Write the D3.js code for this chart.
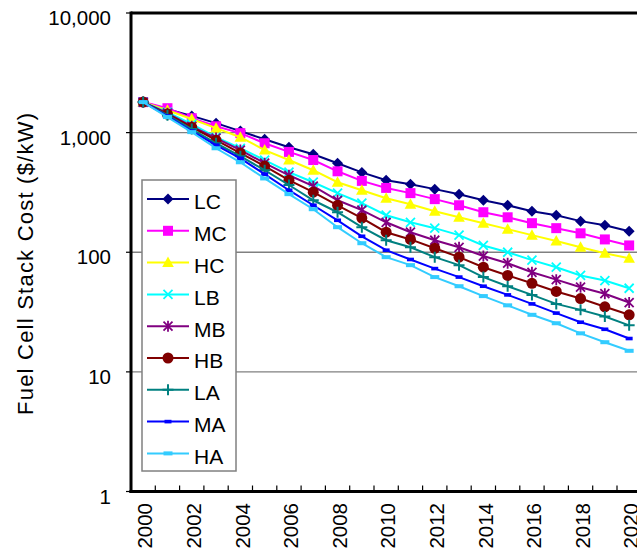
<!DOCTYPE html>
<html>
<head>
<meta charset="utf-8">
<script src="https://cdn.jsdelivr.net/npm/d3@7"></script>
<style>
  html, body { margin: 0; padding: 0; background: #fff; }
  svg { display: block; font-family: Arial, "Liberation Sans", Helvetica, sans-serif; }
</style>
</head>
<body>
<svg id="chart" width="637" height="556"></svg>
<script>
// ---- data ----
const years = [2000,2001,2002,2003,2004,2005,2006,2007,2008,2009,2010,2011,2012,2013,2014,2015,2016,2017,2018,2019,2020];
const yearLabels = ["2000","2002","2004","2006","2008","2010","2012","2014","2016","2018","2020"];
const yTicks = [1, 10, 100, 1000, 10000];
const yTickLabels = ["1", "10", "100", "1,000", "10,000"];
const seriesNames = ["LC","MC","HC","LB","MB","HB","LA","MA","HA"];

const LC = [1800,1570,1380,1200,1030,880,755,660,555,465,400,370,337,305,272,247,220,204,182,168,150];
const MC = [1800,1600,1320,1130,990,815,690,590,475,395,345,312,278,247,216,196,175,159,144,128,114];
const HC = [1800,1540,1300,1090,915,715,590,485,385,330,283,252,220,196,175,156,139,124,110,98,89];
const LB = [1800,1480,1180,915,740,590,467,385,312,257,204,178,159,139,114,100,86,75,64,58,50];
const MB = [1800,1455,1130,900,715,555,440,357,272,225,178,147,126,110,93,81,68,59,51,45,38];
const HB = [1800,1430,1110,865,675,525,400,318,247,193,147,128,108,91,75,64,55,47,41,35,30];
const LA = [1800,1400,1070,815,635,485,365,272,216,162,126,110,91,78,62,52,44,37,33,29,24.5];
const MA = [1800,1375,1030,785,610,450,330,247,185,136,104,87,73,62,52,44,37,31,26,22.7,19];
const HA = [1800,1350,1010,740,565,414,306,229,162,119,91,78,62,52,43,36,30,25.5,21,17.7,15];

const seriesValues = [LC, MC, HC, LB, MB, HB, LA, MA, HA];
const seriesColors = ["#000080","#FF00FF","#FFFF00","#00FFFF","#800080","#800000","#008080","#0000FF","#33CCFF"];
const seriesMarkers = ["diamond","square","triangle","x","star","circle","plus","dashS","dashL"];

// ---- layout ----
const svg = d3.select("#chart");
const plotLeft = 131, plotTop = 13, plotBottom = 491.5;
const band = 24.3;
const x = d3.scaleBand().domain(years).range([plotLeft, plotLeft + band * years.length]).paddingInner(0).paddingOuter(0);
const xc = d => x(d) + x.bandwidth() / 2;
const y = d3.scaleLog().domain([1, 10000]).range([plotBottom, plotTop]);

// gridlines
const grid = svg.append("g");
[10, 100, 1000].forEach(v => {
  grid.append("line")
    .attr("x1", plotLeft).attr("x2", 700)
    .attr("y1", y(v)).attr("y2", y(v))
    .attr("stroke", "#808080").attr("stroke-width", 1.4);
});

// marker drawing
function drawMarker(g, type, cx, cy, color) {
  const m = g.append("g").attr("transform", `translate(${cx},${cy})`);
  switch (type) {
    case "diamond":
      m.append("path").attr("d", "M0,-5.5L5.5,0L0,5.5L-5.5,0Z").attr("fill", color); break;
    case "square":
      m.append("rect").attr("x", -5).attr("y", -5).attr("width", 10).attr("height", 10).attr("fill", color); break;
    case "triangle":
      m.append("path").attr("d", "M0,-6L5.8,4.5L-5.8,4.5Z").attr("fill", color); break;
    case "x":
      m.append("path").attr("d", "M-4.5,-4.5L4.5,4.5M-4.5,4.5L4.5,-4.5").attr("stroke", color).attr("stroke-width", 1.8).attr("fill", "none"); break;
    case "star":
      m.append("path").attr("d", "M-4.5,-4.5L4.5,4.5M-4.5,4.5L4.5,-4.5M0,-5.5L0,5.5").attr("stroke", color).attr("stroke-width", 1.8).attr("fill", "none"); break;
    case "circle":
      m.append("circle").attr("r", 5.5).attr("fill", color); break;
    case "plus":
      m.append("path").attr("d", "M-5.5,0L5.5,0M0,-5.5L0,5.5").attr("stroke", color).attr("stroke-width", 2).attr("fill", "none"); break;
    case "dashS":
      m.append("rect").attr("x", -3.5).attr("y", -1.8).attr("width", 7).attr("height", 3.6).attr("fill", color); break;
    case "dashL":
      m.append("rect").attr("x", -4.5).attr("y", -2).attr("width", 9).attr("height", 4).attr("fill", color); break;
  }
}

// series
const line = d3.line().x((d, i) => xc(years[i])).y(d => y(d));
seriesNames.forEach((name, s) => {
  const g = svg.append("g");
  g.append("path").datum(seriesValues[s])
    .attr("d", line).attr("fill", "none")
    .attr("stroke", seriesColors[s]).attr("stroke-width", 2);
  seriesValues[s].forEach((v, i) => drawMarker(g, seriesMarkers[s], xc(years[i]), y(v), seriesColors[s]));
});

// axes frame
svg.append("line").attr("x1", plotLeft).attr("x2", 700).attr("y1", y(10000)).attr("y2", y(10000))
  .attr("stroke", "#000").attr("stroke-width", 3);
svg.append("line").attr("x1", plotLeft).attr("x2", plotLeft).attr("y1", y(10000) - 1.5).attr("y2", plotBottom + 1.5)
  .attr("stroke", "#000").attr("stroke-width", 3);
svg.append("line").attr("x1", plotLeft - 1.5).attr("x2", 700).attr("y1", plotBottom).attr("y2", plotBottom)
  .attr("stroke", "#000").attr("stroke-width", 3);

// x ticks (between categories)
years.forEach(yr => {
  if (yr === years[0]) return;
  svg.append("line").attr("x1", x(yr)).attr("x2", x(yr))
    .attr("y1", plotBottom - 6).attr("y2", plotBottom)
    .attr("stroke", "#000").attr("stroke-width", 1.2);
});
// y ticks
yTicks.forEach(v => {
  svg.append("line").attr("x1", plotLeft - 5).attr("x2", plotLeft)
    .attr("y1", y(v)).attr("y2", y(v)).attr("stroke", "#000").attr("stroke-width", 1.2);
});

// x labels
yearLabels.forEach(lbl => {
  const px = xc(+lbl) + 2;
  svg.append("text")
    .attr("transform", `translate(${px},503) rotate(-90)`)
    .attr("text-anchor", "end").attr("dy", "0.35em")
    .attr("font-size", 20.5).attr("fill", "#000")
    .text(lbl);
});

// y labels
yTicks.forEach((v, i) => {
  svg.append("text")
    .attr("x", 111).attr("y", y(v) + 5).attr("dy", "0.35em")
    .attr("text-anchor", "end").attr("font-size", 20.5).attr("fill", "#000")
    .text(yTickLabels[i]);
});

// y axis title
svg.append("text")
  .attr("transform", "translate(25,264) rotate(-90)")
  .attr("text-anchor", "middle").attr("dy", "0.35em")
  .attr("font-size", 22).attr("fill", "#000")
  .attr("textLength", 302).attr("lengthAdjust", "spacing")
  .text("Fuel Cell Stack Cost ($/kW)");

// legend
const lg = svg.append("g");
lg.append("rect").attr("x", 142).attr("y", 180).attr("width", 94).attr("height", 291)
  .attr("fill", "#fff").attr("stroke", "#808080").attr("stroke-width", 1.5);
seriesNames.forEach((name, s) => {
  const ly = 199 + s * 31.8;
  lg.append("line").attr("x1", 147).attr("x2", 189).attr("y1", ly).attr("y2", ly)
    .attr("stroke", seriesColors[s]).attr("stroke-width", 2);
  drawMarker(lg, seriesMarkers[s], 168, ly, seriesColors[s]);
  lg.append("text").attr("x", 194).attr("y", ly + 3).attr("dy", "0.35em")
    .attr("font-size", 21).attr("fill", "#000").text(name);
});
</script>
</body>
</html>
